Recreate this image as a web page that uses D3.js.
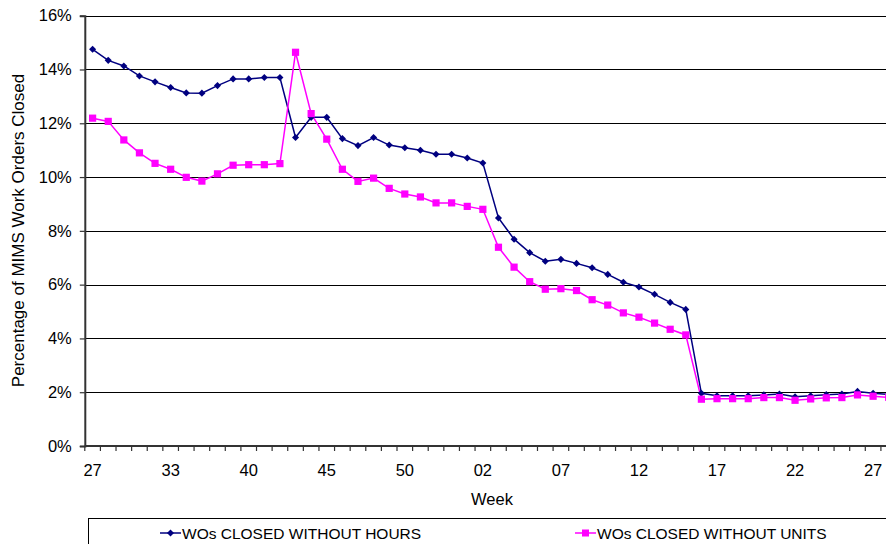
<!DOCTYPE html>
<html>
<head>
<meta charset="utf-8">
<script src="https://cdn.jsdelivr.net/npm/d3@7"></script>
<style>
html,body{margin:0;padding:0;background:#fff;}
svg{display:block;}
text{font-family:"Liberation Sans",Arial,Helvetica,sans-serif;fill:#000;}
</style>
</head>
<body>
<svg id="chart" width="886" height="544"></svg>
<script>
const weeks = ["27","28","29","30","31","33","34","35","37","38","40","41","42","43","44","45","46","47","48","49","50","51","52","53","01","02","03","04","05","06","07","08","09","10","11","12","13","14","15","16","17","18","19","20","21","22","23","24","25","26","27","28"];
const withoutHours = [14.75,14.34,14.13,13.76,13.54,13.33,13.13,13.12,13.40,13.65,13.65,13.70,13.70,11.47,12.22,12.22,11.43,11.17,11.47,11.19,11.09,11.00,10.85,10.85,10.71,10.52,8.48,7.69,7.19,6.87,6.94,6.79,6.63,6.38,6.09,5.91,5.64,5.34,5.08,1.96,1.87,1.87,1.87,1.90,1.93,1.83,1.87,1.91,1.93,2.03,1.96,1.92];
const withoutUnits = [12.19,12.07,11.38,10.90,10.51,10.29,9.99,9.85,10.12,10.44,10.46,10.46,10.50,14.64,12.36,11.41,10.29,9.84,9.96,9.58,9.37,9.26,9.04,9.04,8.91,8.80,7.39,6.65,6.11,5.83,5.85,5.78,5.44,5.24,4.95,4.79,4.57,4.34,4.13,1.74,1.76,1.76,1.76,1.80,1.80,1.70,1.75,1.79,1.80,1.90,1.85,1.81];
const seriesNames = ["WOs CLOSED WITHOUT HOURS","WOs CLOSED WITHOUT UNITS"];
const seriesColors = ["#000080","#FF00FF"];
const yTicks = [0,2,4,6,8,10,12,14,16];
const labelEvery = 5;

(function(){
const svg = d3.select("#chart");
const pLeft = 84.8, pTop = 15.7, pBottom = 446, step = 15.61;
const idx = weeks.map((d,i)=>i);
const x = d3.scaleBand().domain(idx).range([pLeft, pLeft + step*weeks.length]).paddingInner(0).paddingOuter(0);
const y = d3.scaleLinear().domain([0,16]).range([pBottom, pTop]);
const cx = i => x(i) + x.bandwidth()/2;
const pRight = pLeft + step*weeks.length;

// gridlines
svg.append("g").selectAll("line").data(yTicks.filter(t=>t>0)).join("line")
  .attr("x1", pLeft).attr("x2", pRight)
  .attr("y1", d=>Math.round(y(d))+0.5).attr("y2", d=>Math.round(y(d))+0.5)
  .attr("stroke","#000").attr("stroke-width",1.2);

// y axis
const yAxis = d3.axisLeft(y).tickValues(yTicks).tickFormat(d=>d+"%").tickSize(5).tickPadding(8);
const gy = svg.append("g").attr("transform",`translate(${pLeft},0)`).call(yAxis);
gy.select(".domain").attr("stroke","#333").attr("stroke-width",2);
gy.selectAll(".tick line").attr("stroke","#333").attr("stroke-width",1.2);
gy.selectAll(".tick text").style("font-size","16.5px").style("font-family","Liberation Sans, Arial, sans-serif").attr("fill","#000");

// x axis: ticks at category boundaries
const gx = svg.append("g").attr("transform",`translate(0,${pBottom})`);
gx.append("line").attr("x1",pLeft).attr("x2",pRight).attr("y1",0).attr("y2",0).attr("stroke","#333").attr("stroke-width",2);
gx.selectAll("line.tk").data(d3.range(weeks.length+1)).join("line").attr("class","tk")
  .attr("x1",i=>pLeft+i*step).attr("x2",i=>pLeft+i*step).attr("y1",0).attr("y2",5)
  .attr("stroke","#333").attr("stroke-width",1.2);
const xAxis = d3.axisBottom(x).tickValues(idx.filter(i=>i%labelEvery===0)).tickFormat(i=>weeks[i]).tickSize(0).tickPadding(18);
const gx2 = svg.append("g").attr("transform",`translate(0,${pBottom})`).call(xAxis);
gx2.select(".domain").remove();
gx2.selectAll(".tick text").style("font-size","16.5px").style("font-family","Liberation Sans, Arial, sans-serif").attr("fill","#000");

// axis titles
svg.append("text").attr("x",492).attr("y",505).attr("text-anchor","middle").style("font-size","16.5px").text("Week");
svg.append("text").attr("transform","translate(24,230.5) rotate(-90)").attr("text-anchor","middle").style("font-size","17px").text("Percentage of MIMS Work Orders Closed");

// series
const line = d3.line().x((d,i)=>cx(i)).y(d=>y(d));
[withoutHours, withoutUnits].forEach((vals, s) => {
  svg.append("path").datum(vals).attr("d", line).attr("fill","none")
    .attr("stroke", seriesColors[s]).attr("stroke-width",1.5);
});
const diamond = d3.symbol(d3.symbolDiamond2 || d3.symbolSquare, 32);
svg.append("g").selectAll("path").data(withoutHours).join("path")
  .attr("d", diamond)
  .attr("transform",(d,i)=>`translate(${cx(i)},${y(d)})${d3.symbolDiamond2 ? "" : " rotate(45)"}`)
  .attr("fill", seriesColors[0]);
svg.append("g").selectAll("rect").data(withoutUnits).join("rect")
  .attr("x",(d,i)=>cx(i)-3.6).attr("y",d=>y(d)-3.6).attr("width",7.2).attr("height",7.2)
  .attr("fill", seriesColors[1]);

// legend
const lg = svg.append("g");
lg.append("rect").attr("x",88.5).attr("y",518.5).attr("width",900).attr("height",50).attr("fill","none").attr("stroke","#000").attr("stroke-width",1);
const legendX = [160, 575];
seriesNames.forEach((n,s)=>{
  const g = lg.append("g").attr("transform",`translate(${legendX[s]},533)`);
  g.append("line").attr("x1",0).attr("x2",21).attr("y1",0).attr("y2",0).attr("stroke",seriesColors[s]).attr("stroke-width",1.5);
  if (s===0) g.append("path").attr("d", diamond).attr("transform",`translate(10.5,0)${d3.symbolDiamond2 ? "" : " rotate(45)"}`).attr("fill",seriesColors[s]);
  else g.append("rect").attr("x",7).attr("y",-3.5).attr("width",7).attr("height",7).attr("fill",seriesColors[s]);
  g.append("text").attr("x",22).attr("y",5.5).style("font-size","15.5px").text(n);
});
})();
</script>
</body>
</html>
